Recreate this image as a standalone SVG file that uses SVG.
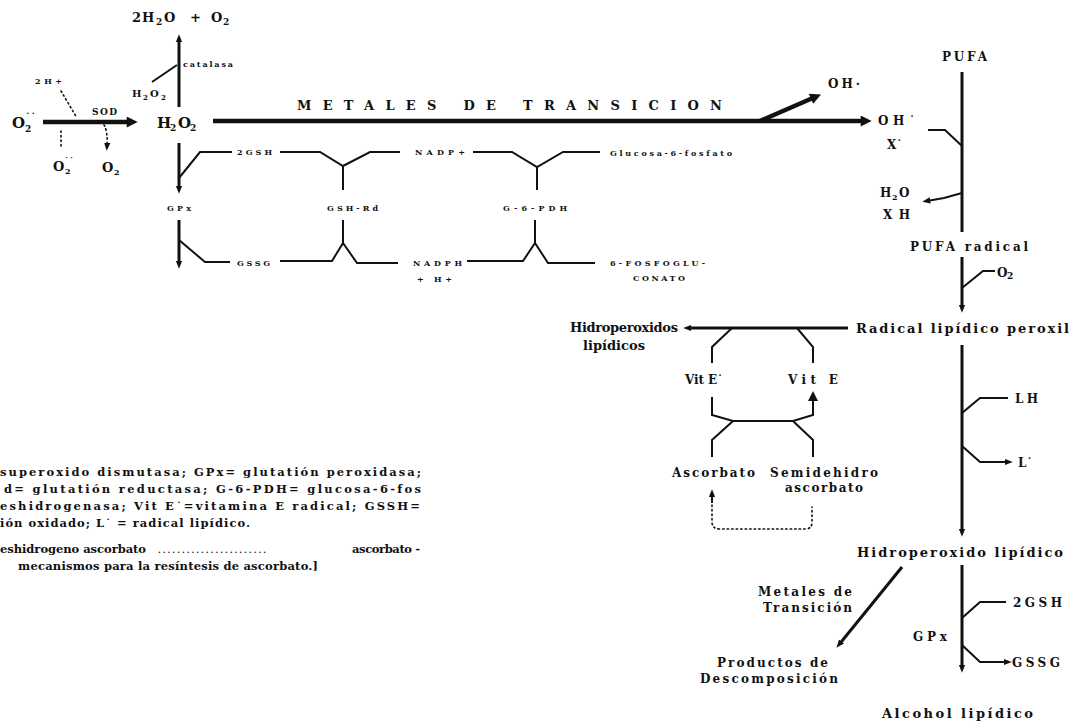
<svg xmlns="http://www.w3.org/2000/svg" width="1072" height="727" viewBox="0 0 1072 727">
<defs>
<style>
text{font-family:"DejaVu Serif","Liberation Serif",serif;font-weight:bold;fill:#111}
.s{font-size:8px}
.m{font-size:12px}
.l{font-size:13px}
.xl{font-size:15px}
.lg{font-size:11.5px}
.ln{stroke:#111;stroke-width:2;fill:none}
.md{stroke:#111;stroke-width:3;fill:none}
.tk{stroke:#111;stroke-width:4.5;fill:none}
.dt{stroke:#111;stroke-width:1.6;fill:none;stroke-dasharray:1.5 3;stroke-linecap:round}
</style>
<marker id="ah" viewBox="0 0 10 10" refX="4" refY="5" markerWidth="8" markerHeight="8" markerUnits="userSpaceOnUse" orient="auto"><path d="M0,1 L10,5 L0,9 z" fill="#111"/></marker>
<marker id="ahm" viewBox="0 0 10 10" refX="4" refY="5" markerWidth="10" markerHeight="10" markerUnits="userSpaceOnUse" orient="auto"><path d="M0,0 L10,5 L0,10 z" fill="#111"/></marker>
<marker id="ahb" viewBox="0 0 10 10" refX="3" refY="5" markerWidth="13" markerHeight="11" markerUnits="userSpaceOnUse" orient="auto"><path d="M0,0 L10,5 L0,10 z" fill="#111"/></marker>
</defs>
<rect width="1072" height="727" fill="#fff"/>

<g id="connectors">
  <path class="tk" d="M43,122 H130" marker-end="url(#ahb)"/>
  <path class="dt" d="M61,91 L77,118"/>
  <path class="dt" d="M61,131 V148"/>
  <path class="dt" d="M104,125 Q108,132 107,146" marker-end="url(#ah)"/>
  <path class="md" d="M179,107 V39" marker-end="url(#ah)"/>
  <path class="ln" d="M152,82 L177,65"/>
  <path class="tk" d="M213,121 H864" marker-end="url(#ahb)"/>
  <path class="tk" d="M760,121 L814,97.5" marker-end="url(#ahb)"/>
  <path class="md" d="M179,143 V189" marker-end="url(#ah)"/>
  <path class="ln" d="M179,178 L200,152 H232"/>
  <path class="md" d="M179,220 V264" marker-end="url(#ah)"/>
  <path class="ln" d="M179,240 L205,262 H230"/>
  <path class="ln" d="M280,152 H320 L343,166 L370,152 H400"/>
  <path class="ln" d="M343,166 V190"/>
  <path class="ln" d="M473,152 H512 L537,167 L563,152 H600"/>
  <path class="ln" d="M537,167 V190"/>
  <path class="ln" d="M280,261 H332 L343,243 L357,263 H398"/>
  <path class="ln" d="M343,243 V220"/>
  <path class="ln" d="M467,261 H523 L535,243 L548,263 H595"/>
  <path class="ln" d="M535,243 V220"/>
  <path class="md" d="M962,72 V232"/>
  <path class="ln" d="M928,130 H945 L962,146"/>
  <path class="ln" d="M962,193 L944,198 L927,201" marker-end="url(#ah)"/>
  <path class="md" d="M962,257 V308" marker-end="url(#ah)"/>
  <path class="ln" d="M962,288 L983,271 H995"/>
  <path class="md" d="M962,345 V532" marker-end="url(#ah)"/>
  <path class="ln" d="M962,413 L980,398 H1008"/>
  <path class="ln" d="M962,446 L980,462 H1008" marker-end="url(#ah)"/>
  <path class="md" d="M962,565 V668" marker-end="url(#ah)"/>
  <path class="ln" d="M962,618 L980,602 H1006"/>
  <path class="ln" d="M962,645 L980,662 H1007" marker-end="url(#ah)"/>
  <path class="md" d="M848,328 H688" marker-end="url(#ah)"/>
  <path class="ln" d="M732,328 L712,347 V363"/>
  <path class="ln" d="M797,328 L813,347 V363"/>
  <path class="ln" d="M712,397 V415 L733,421 H793 L813,415 V397" marker-end="url(#ahm)"/>
  <path class="ln" d="M733,421 L712,440 V457"/>
  <path class="ln" d="M793,421 L813,440 V457"/>
  <path class="ln" d="M712,503 V494" marker-end="url(#ah)"/>
  <path class="dt" d="M712,505 V522 Q712,529 720,529 H805 Q812,529 812,522 V507"/>
  <path class="md" d="M902,567 L839.5,644" marker-end="url(#ah)"/>
</g>

<g id="n-h2o-o2"><text class="l" y="22"><tspan x="132">2</tspan><tspan x="142">H</tspan><tspan x="156" dy="3" font-size="9">2</tspan><tspan x="164" dy="-3">O</tspan><tspan x="190">+</tspan><tspan x="211">O</tspan><tspan x="223" dy="3" font-size="9">2</tspan></text></g>
<g id="n-catalasa"><text class="s" x="183" y="67" textLength="50">catalasa</text></g>
<g id="n-h2o2-small"><text font-size="10" y="97"><tspan x="132">H</tspan><tspan x="143" dy="3" font-size="7">2</tspan><tspan x="150" dy="-3">O</tspan><tspan x="161" dy="3" font-size="7">2</tspan></text></g>
<g id="n-2h"><text class="s" x="35" y="84" textLength="27">2H+</text></g>
<g id="n-sod"><text font-size="9" x="92" y="115" textLength="25">SOD</text></g>
<g id="n-o2rad"><text class="xl" y="128"><tspan x="12">O</tspan><tspan x="25" dy="-7" font-size="11">˙˙</tspan><tspan x="25" dy="11" font-size="9">2</tspan></text></g>
<g id="n-o2rad2"><text class="l" y="171"><tspan x="53">O</tspan><tspan x="64" dy="-7" font-size="10">˙˙</tspan><tspan x="65" dy="10" font-size="8">2</tspan></text></g>
<g id="n-o2"><text class="l" y="172"><tspan x="102">O</tspan><tspan x="114" dy="3" font-size="8">2</tspan></text></g>
<g id="n-h2o2"><text class="xl" y="128"><tspan x="157">H</tspan><tspan x="170" dy="3" font-size="9">2</tspan><tspan x="178" dy="-3">O</tspan><tspan x="190" dy="3" font-size="9">2</tspan></text></g>
<g id="n-metales"><text class="l" x="297" y="110" textLength="425">METALES DE TRANSICION</text></g>
<g id="n-oh1"><text class="m" x="828" y="88" textLength="32">OH·</text></g>
<g id="n-oh2"><text class="m" x="878" y="125" textLength="37">OH˙</text></g>
<g id="n-x"><text class="m" x="887" y="149">X˙</text></g>
<g id="n-pufa"><text class="m" x="942" y="61" textLength="45">PUFA</text></g>
<g id="n-h2o"><text class="m" y="197"><tspan x="880">H</tspan><tspan x="892" dy="3" font-size="8">2</tspan><tspan x="899" dy="-3">O</tspan></text></g>
<g id="n-xh"><text class="m" x="883" y="219" textLength="27">XH</text></g>
<g id="n-pufarad"><text class="m" x="910" y="251" textLength="118">PUFA radical</text></g>
<g id="n-o2r"><text class="m" y="277"><tspan x="997">O</tspan><tspan x="1007" dy="2" font-size="9">2</tspan></text></g>
<g id="n-peroxil"><text class="l" x="856" y="333" textLength="213">Radical lipídico peroxil</text></g>
<g id="n-hidroperoxidos"><text class="l" x="570" y="332" textLength="108">Hidroperoxidos</text><text class="l" x="583" y="350" textLength="62">lipídicos</text></g>
<g id="n-vite-rad"><text class="m" x="685" y="384" textLength="38">Vit E˙</text></g>
<g id="n-vite"><text class="m" x="788" y="384" textLength="50">Vit E</text></g>
<g id="n-ascorbato"><text class="m" x="672" y="477" textLength="83">Ascorbato</text></g>
<g id="n-semidehidro"><text class="m" x="770" y="477" textLength="108">Semidehidro</text><text class="m" x="785" y="492" textLength="78">ascorbato</text></g>
<g id="n-lh"><text class="m" x="1015" y="403" textLength="23">LH</text></g>
<g id="n-l"><text class="m" x="1018" y="467">L˙</text></g>
<g id="n-hidroperoxido"><text class="l" x="857" y="557" textLength="206">Hidroperoxido lipídico</text></g>
<g id="n-metales2"><text class="m" x="758" y="596" textLength="94">Metales de</text><text class="m" x="763" y="612" textLength="89">Transición</text></g>
<g id="n-2gsh-r"><text class="m" x="1013" y="607" textLength="49">2GSH</text></g>
<g id="n-gpx-r"><text class="m" x="913" y="641" textLength="34">GPx</text></g>
<g id="n-gssg-r"><text class="m" x="1012" y="667" textLength="48">GSSG</text></g>
<g id="n-productos"><text class="m" x="717" y="667" textLength="111">Productos de</text><text class="m" x="700" y="683" textLength="138">Descomposición</text></g>
<g id="n-alcohol"><text class="l" x="882" y="718" textLength="151">Alcohol lipídico</text></g>

<g id="n-2gsh"><text class="s" x="237" y="155" textLength="35">2GSH</text></g>
<g id="n-nadp"><text class="s" x="415" y="155" textLength="50">NADP+</text></g>
<g id="n-g6p"><text class="s" x="610" y="156" textLength="122">Glucosa-6-fosfato</text></g>
<g id="n-gpx"><text class="s" x="167" y="211" textLength="24">GPx</text></g>
<g id="n-gshrd"><text class="s" x="327" y="211" textLength="51">GSH-Rd</text></g>
<g id="n-g6pdh"><text class="s" x="503" y="211" textLength="64">G-6-PDH</text></g>
<g id="n-gssg"><text class="s" x="237" y="266" textLength="33">GSSG</text></g>
<g id="n-nadph"><text class="s" x="413" y="266" textLength="49">NADPH</text><text class="s" x="417" y="282" textLength="35">+ H+</text></g>
<g id="n-6pg"><text class="s" x="610" y="266" textLength="95">6-FOSFOGLU-</text><text class="s" x="633" y="281" textLength="52">CONATO</text></g>

<g id="legend">
  <text class="lg" x="0" y="476" textLength="421">superoxido dismutasa; GPx= glutatión peroxidasa;</text>
  <text class="lg" x="4" y="493" textLength="417">d= glutatión reductasa; G-6-PDH= glucosa-6-fos</text>
  <text class="lg" x="0" y="510" textLength="420">eshidrogenasa; Vit E˙=vitamina E radical; GSSH=</text>
  <text class="lg" x="0" y="527" textLength="250">ión oxidado; L˙ = radical lipídico.</text>
  <text class="lg" x="0" y="553" textLength="146">eshidrogeno ascorbato</text>
  <text class="s" x="158" y="553" textLength="108" font-weight="normal">.......................</text>
  <text class="lg" x="352" y="553" textLength="68">ascorbato -</text>
  <text class="lg" x="18" y="570" textLength="300">mecanismos para la resíntesis de ascorbato.]</text>
</g>
</svg>
